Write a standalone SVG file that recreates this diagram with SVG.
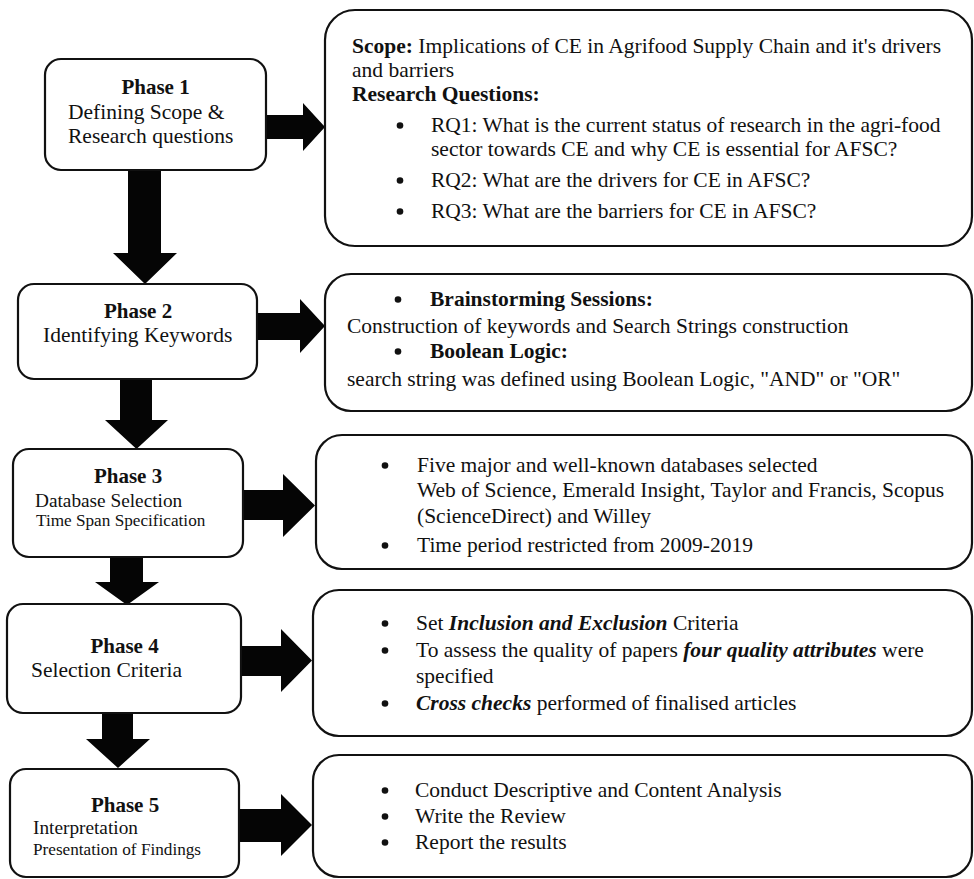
<svg xmlns="http://www.w3.org/2000/svg" width="974" height="879" viewBox="0 0 974 879">
<style>
  .box { fill: #ffffff; stroke: #111111; stroke-width: 2.2; }
  .arrow { fill: #050505; stroke: none; }
  .dot { fill: #111111; }
  text { font-family: "Liberation Serif", "Times New Roman", serif; font-size: 21.5px; fill: #111111; }
  .title { font-weight: bold; font-size: 21px; text-anchor: middle; }
  .b { font-weight: bold; }
  .bi { font-weight: bold; font-style: italic; }
  .s19 { font-size: 19.3px; }
  .s17 { font-size: 17.2px; }
</style>
<rect x="0" y="0" width="974" height="879" fill="#ffffff"/>

<g id="connectors">
  <polygon class="arrow" points="266,115 303,115 303,103 325,127 303,151 303,139 266,139"/>
  <polygon class="arrow" points="128,170 161,170 161,253 177,253 145,284 113,253 128,253"/>
  <polygon class="arrow" points="257,313 300,313 300,299 325,326 300,353 300,340 257,340"/>
  <polygon class="arrow" points="120,379 152,379 152,420 168,420 136.5,449 105,420 120,420"/>
  <polygon class="arrow" points="243,490 283,490 283,474 315,505.5 283,537 283,520 243,520"/>
  <polygon class="arrow" points="110,557 143,557 143,582 159,582 127,605 95,582 110,582"/>
  <polygon class="arrow" points="241,646 281,646 281,629 312,660.5 281,692 281,676 241,676"/>
  <polygon class="arrow" points="102,713 133,713 133,739 150,739 118,768 86,739 102,739"/>
  <polygon class="arrow" points="239,809 281,809 281,794 312,825 281,856 281,842 239,842"/>
</g>

<g id="phase1">
  <rect class="box" x="45" y="59" width="221" height="111" rx="16" ry="16"/>
  <text class="title" x="155.5" y="94">Phase 1</text>
  <text x="68" y="119">Defining Scope &amp;</text>
  <text x="68" y="143">Research questions</text>
</g>

<g id="phase2">
  <rect class="box" x="18" y="284" width="239" height="95" rx="16" ry="16"/>
  <text class="title" x="138" y="318">Phase 2</text>
  <text x="43" y="342">Identifying Keywords</text>
</g>

<g id="phase3">
  <rect class="box" x="13" y="449" width="230" height="108" rx="16" ry="16"/>
  <text class="title" x="128" y="483">Phase 3</text>
  <text class="s19" x="35" y="507">Database Selection</text>
  <text class="s17" x="36" y="526">Time Span Specification</text>
</g>

<g id="phase4">
  <rect class="box" x="7" y="604" width="234" height="109" rx="16" ry="16"/>
  <text class="title" x="124.5" y="653">Phase 4</text>
  <text x="31" y="677">Selection Criteria</text>
</g>

<g id="phase5">
  <rect class="box" x="10" y="769" width="229" height="108" rx="16" ry="16"/>
  <text class="title" x="125" y="812">Phase 5</text>
  <text class="s19" x="33" y="834">Interpretation</text>
  <text class="s17" x="33" y="855">Presentation of Findings</text>
</g>

<g id="detail1">
  <rect class="box" x="325" y="10" width="647" height="236" rx="30" ry="30"/>
  <text x="352" y="53"><tspan class="b">Scope:</tspan> Implications of CE in Agrifood Supply Chain and it's drivers</text>
  <text x="352" y="77">and barriers</text>
  <text class="b" x="352" y="101">Research Questions:</text>
  <circle class="dot" cx="400" cy="125.5" r="3.3"/>
  <text x="431" y="132">RQ1: What is the current status of research in the agri-food</text>
  <text x="431" y="156">sector towards CE and why CE is essential for AFSC?</text>
  <circle class="dot" cx="400" cy="180.5" r="3.3"/>
  <text x="431" y="187">RQ2: What are the drivers for CE in AFSC?</text>
  <circle class="dot" cx="400" cy="211.5" r="3.3"/>
  <text x="431" y="218">RQ3: What are the barriers for CE in AFSC?</text>
</g>

<g id="detail2">
  <rect class="box" x="325" y="274" width="647" height="137" rx="26" ry="26"/>
  <circle class="dot" cx="398" cy="299.5" r="3.3"/>
  <text class="b" x="430" y="306">Brainstorming Sessions:</text>
  <text x="347" y="333">Construction of keywords and Search Strings construction</text>
  <circle class="dot" cx="398" cy="351.5" r="3.3"/>
  <text class="b" x="430" y="358">Boolean Logic:</text>
  <text x="347" y="386">search string was defined using Boolean Logic, "AND" or "OR"</text>
</g>

<g id="detail3">
  <rect class="box" x="316" y="435" width="656" height="134" rx="26" ry="26"/>
  <circle class="dot" cx="385" cy="465.5" r="3.3"/>
  <text x="417" y="472">Five major and well-known databases selected</text>
  <text x="417" y="497">Web of Science, Emerald Insight, Taylor and Francis, Scopus</text>
  <text x="417" y="523">(ScienceDirect) and Willey</text>
  <circle class="dot" cx="385" cy="545.5" r="3.3"/>
  <text x="417" y="552">Time period restricted from 2009-2019</text>
</g>

<g id="detail4">
  <rect class="box" x="313" y="590" width="659" height="146" rx="26" ry="26"/>
  <circle class="dot" cx="385" cy="623.5" r="3.3"/>
  <text x="416" y="630">Set <tspan class="bi">Inclusion and Exclusion</tspan> Criteria</text>
  <circle class="dot" cx="385" cy="650.5" r="3.3"/>
  <text x="416" y="657">To assess the quality of papers <tspan class="bi">four quality attributes</tspan> were</text>
  <text x="416" y="683">specified</text>
  <circle class="dot" cx="385" cy="703.5" r="3.3"/>
  <text x="416" y="710"><tspan class="bi">Cross checks</tspan> performed of finalised articles</text>
</g>

<g id="detail5">
  <rect class="box" x="313" y="755" width="659" height="122" rx="26" ry="26"/>
  <circle class="dot" cx="385" cy="790.5" r="3.3"/>
  <text x="415" y="797">Conduct Descriptive and Content Analysis</text>
  <circle class="dot" cx="385" cy="816.5" r="3.3"/>
  <text x="415" y="823">Write the Review</text>
  <circle class="dot" cx="385" cy="842.5" r="3.3"/>
  <text x="415" y="849">Report the results</text>
</g>
</svg>
